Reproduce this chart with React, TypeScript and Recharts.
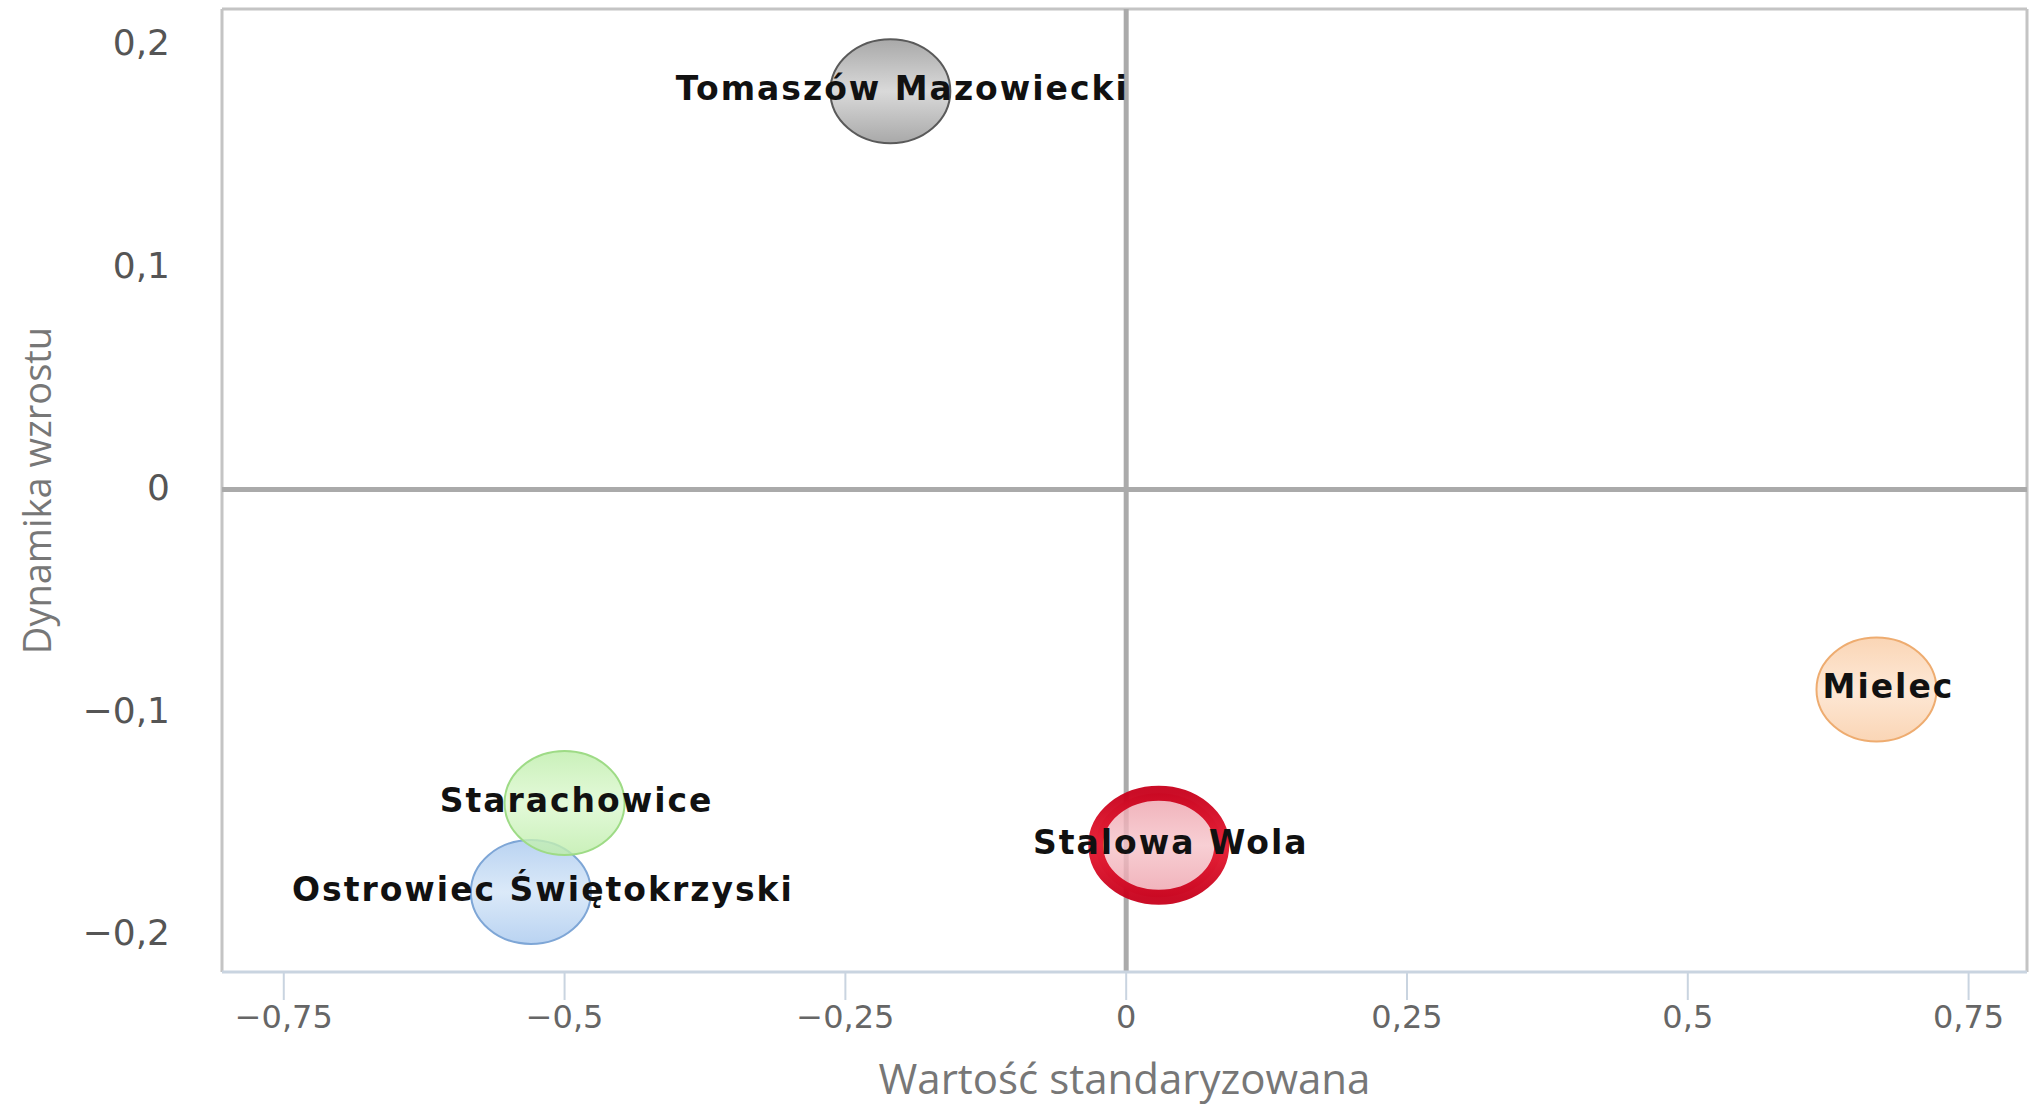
import React from 'react';
import { ScatterChart, Scatter, XAxis, YAxis, ReferenceLine } from 'recharts';

// ---- data ----
const cities = ['Mielec', 'Tomaszów Mazowiecki', 'Stalowa Wola', 'Ostrowiec Świętokrzyski', 'Starachowice'];
const standardizedValue = [0.668, -0.21, 0.029, -0.53, -0.5];
const growthDynamics = [-0.09, 0.179, -0.16, -0.181, -0.141];
const xTicks = [-0.75, -0.5, -0.25, 0, 0.25, 0.5, 0.75];
const yTicks = [-0.2, -0.1, 0, 0.1, 0.2];

const X_DOMAIN: [number, number] = [-0.805, 0.802];
const Y_DOMAIN: [number, number] = [-0.217, 0.216];

// ---- styles ----
type Pal = { light: string; dark: string; stroke: string; ring?: boolean };
const palette: Pal[] = [
  { light: '#fde2cb', dark: '#f9cba3', stroke: '#eeac70' },
  { light: '#d0d0d0', dark: '#939393', stroke: '#5a5a5a' },
  { light: '#f6c3c9', dark: '#ec9ca7', stroke: '#d0001c', ring: true },
  { light: '#d2e4f7', dark: '#a8c8ee', stroke: '#7ea6d6' },
  { light: '#dcf8cf', dark: '#bdeda9', stroke: '#9edb86' },
];

const series = cities.map((name, i) => [{ name, x: standardizedValue[i], y: growthDynamics[i] }]);

const fmt = (v: number) => (v < 0 ? '−' : '') + String(Math.abs(v)).replace('.', ',');

const RX = 60;
const RY = 52;

const makeShape = (i: number) => (props: any) => {
  const { cx, cy, payload } = props;
  const p = palette[i];
  const gid = `g${i}`;
  const sid = `s${i}`;
  return (
    <g>
      <defs>
        <linearGradient id={gid} x1="0" y1="0" x2="0" y2="1">
          <stop offset="0%" stopColor={p.dark} />
          <stop offset="50%" stopColor={p.light} />
          <stop offset="100%" stopColor={p.dark} />
        </linearGradient>
        <linearGradient id={sid} x1="0" y1="0" x2="0" y2="1">
          <stop offset="0%" stopColor="#c8001b" />
          <stop offset="50%" stopColor="#e5182f" />
          <stop offset="100%" stopColor="#c8001b" />
        </linearGradient>
      </defs>
      {p.ring ? (
        <ellipse
          cx={cx}
          cy={cy}
          rx={RX + 3}
          ry={RY}
          fill={`url(#${gid})`}
          fillOpacity={0.8}
          stroke={`url(#${sid})`}
          strokeOpacity={0.95}
          strokeWidth={15}
        />
      ) : (
        <ellipse
          cx={cx}
          cy={cy}
          rx={RX}
          ry={RY}
          fill={`url(#${gid})`}
          fillOpacity={0.8}
          stroke={p.stroke}
          strokeWidth={2}
        />
      )}
      <text
        x={cx + 12}
        y={cy - 3}
        dy="0.36em"
        textAnchor="middle"
        fontFamily="DejaVu Sans"
        fontWeight="bold"
        fontSize={33}
        letterSpacing={2}
        fill="#111"
      >
        {payload.name}
      </text>
    </g>
  );
};

const YTitle = (props: any) => {
  const vb = props.viewBox || {};
  const x = (vb.x ?? 0) + 36;
  const y = (vb.y ?? 0) + (vb.height ?? 0) / 2;
  return (
    <text
      x={x}
      y={y}
      transform={`rotate(-90, ${x}, ${y})`}
      textAnchor="middle"
      dominantBaseline="central"
      fontFamily="Open Sans"
      fontSize={38}
      fill="#777"
    >
      Dynamika wzrostu
    </text>
  );
};

const XTitle = (props: any) => {
  const vb = props.viewBox || {};
  const x = (vb.x ?? 0) + (vb.width ?? 0) / 2;
  const y = (vb.y ?? 0) + 122;
  return (
    <text x={x} y={y} textAnchor="middle" fontFamily="Open Sans" fontSize={42} fill="#777">
      Wartość standaryzowana
    </text>
  );
};

export default function App() {
  return (
    <div style={{ position: 'absolute', left: 0, top: 0, background: '#fff' }}>
      <ScatterChart width={2035} height={1108} margin={{ top: 9, right: 8, left: 0, bottom: 10 }}>
        <XAxis
          type="number"
          dataKey="x"
          domain={X_DOMAIN}
          allowDataOverflow
          ticks={xTicks}
          tickFormatter={fmt}
          axisLine={{ stroke: '#c9d4e0', strokeWidth: 3 }}
          tickLine={{ stroke: '#c9d4e0', strokeWidth: 2 }}
          tickSize={28}
          tickMargin={5}
          tick={{ fontFamily: 'DejaVu Sans', fontSize: 32, fill: '#666' }}
          height={126}
          label={<XTitle />}
        />
        <YAxis
          type="number"
          dataKey="y"
          domain={Y_DOMAIN}
          allowDataOverflow
          ticks={yTicks}
          tickFormatter={fmt}
          axisLine={false}
          tickLine={false}
          tickSize={0}
          tickMargin={52}
          width={222}
          tick={{ fontFamily: 'DejaVu Sans', fontSize: 36, fill: '#555', dy: -2 }}
          label={<YTitle />}
        />
        <ReferenceLine y={Y_DOMAIN[1]} stroke="#c4c4c4" strokeWidth={3} />
        <ReferenceLine x={X_DOMAIN[0]} stroke="#c4c4c4" strokeWidth={3} />
        <ReferenceLine x={X_DOMAIN[1]} stroke="#c4c4c4" strokeWidth={3} />
        <ReferenceLine x={0} stroke="#aaaaaa" strokeWidth={5} />
        <ReferenceLine y={0} stroke="#aaaaaa" strokeWidth={5} />
        {series.map((d, i) => (
          <Scatter key={cities[i]} data={d} shape={makeShape(i)} isAnimationActive={false} />
        ))}
      </ScatterChart>
    </div>
  );
}
